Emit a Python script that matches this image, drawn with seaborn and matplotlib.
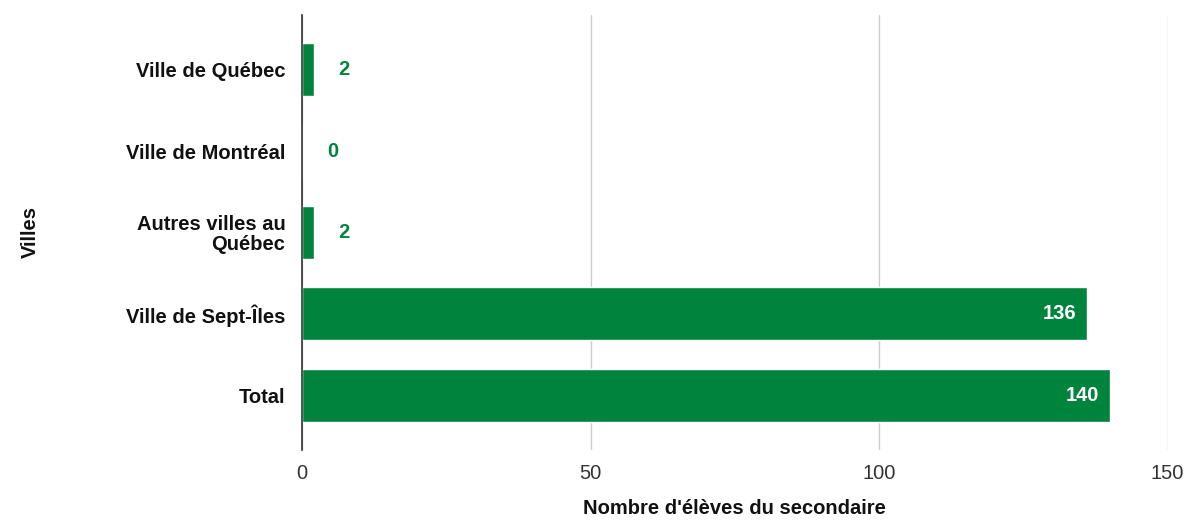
import pandas as pd
import matplotlib
matplotlib.use("Agg")
import matplotlib.pyplot as plt
import seaborn as sns

# data
villes = [
    "Ville de Québec",
    "Ville de Montréal",
    "Autres villes au\nQuébec",
    "Ville de Sept-Îles",
    "Total",
]
eleves = [2, 0, 2, 136, 140]

df = pd.DataFrame({"Villes": villes, "Eleves": eleves})

green = "#00843D"

sns.set_theme(style="whitegrid")
plt.rcParams["font.family"] = ["Liberation Sans", "DejaVu Sans"]

fig = plt.figure(figsize=(11.89, 5.23), dpi=100)
ax = fig.add_axes([0.254, 0.140, 0.728, 0.831])

sns.barplot(
    data=df,
    x="Eleves",
    y="Villes",
    orient="h",
    color=green,
    saturation=1,
    width=0.65,
    ax=ax,
)

ax.set_xlim(0, 150)
ax.set_ylim(4.67, -0.67)
ax.set_xticks([0, 50, 100, 150])

# grid / spines
ax.grid(axis="x", color="#cccccc", linewidth=1)
ax.grid(axis="y", visible=False)
for s in ["top", "right", "bottom"]:
    ax.spines[s].set_visible(False)
ax.spines["left"].set_color("#333333")
ax.spines["left"].set_linewidth(1.2)

ax.tick_params(axis="x", length=0, pad=10, labelsize=14.5, labelcolor="#333333")
ax.tick_params(axis="y", length=0, pad=12)
for lbl in ax.get_yticklabels():
    lbl.set_fontweight("bold")
    lbl.set_fontsize(14.5)
    lbl.set_color("#111111")
    lbl.set_multialignment("right")
    lbl.set_linespacing(1.05)

ax.set_xlabel("Nombre d'élèves du secondaire", fontsize=14.5, fontweight="bold",
              color="#111111", labelpad=12)
ax.set_ylabel("Villes", fontsize=14.5, fontweight="bold", color="#111111",
              labelpad=62)

# value labels
for i, v in enumerate(eleves):
    if v > 20:
        ax.text(v - 1.8, i, str(v), ha="right", va="center", color="white",
                fontsize=14.5, fontweight="bold")
    else:
        ax.text(v + 4.3, i, str(v), ha="left", va="center", color=green,
                fontsize=14.5, fontweight="bold")

fig.savefig("out.png", dpi=100)
